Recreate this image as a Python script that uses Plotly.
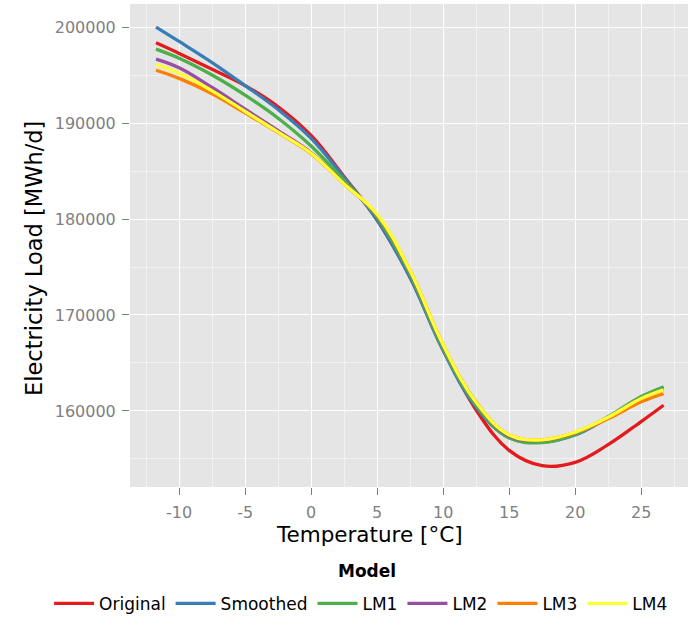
import plotly.graph_objects as go

temperature = [-11.75, -10, -7.5, -5, -2.5, 0, 2.5, 5, 7.5, 10, 12.5, 15, 17.5, 20, 22.5, 25, 26.7]

original = [198350, 197250, 195600, 193900, 191700, 188700, 184400, 179900, 173900, 166400, 160100, 155900, 154300, 154650, 156500, 158900, 160600]
smoothed = [200000, 198500, 196300, 193900, 191400, 188400, 184300, 179900, 173900, 166300, 160400, 157200, 156750, 157500, 159300, 161400, 162500]
lm1 = [197700, 196750, 195000, 192900, 190500, 187600, 184000, 180200, 174200, 166500, 160600, 157200, 156700, 157550, 159400, 161500, 162500]
lm2 = [196650, 195750, 193700, 191450, 189200, 186900, 183700, 180400, 174500, 166800, 160900, 157400, 156950, 157750, 159350, 161300, 162200]
lm3 = [195500, 194650, 193050, 191050, 189000, 186800, 183650, 180400, 174600, 166900, 160900, 157500, 157000, 157750, 159200, 160950, 161800]
lm4 = [196100, 195200, 193350, 191200, 189050, 186850, 183650, 180500, 174600, 166900, 160900, 157500, 157000, 157800, 159350, 161300, 162200]

series_names = ["Original", "Smoothed", "LM1", "LM2", "LM3", "LM4"]
series_values = [original, smoothed, lm1, lm2, lm3, lm4]
colors = ["#E41A1C", "#377EB8", "#4DAF4A", "#984EA3", "#FF7F00", "#FFFF33"]

x_ticks = [-10, -5, 0, 5, 10, 15, 20, 25]
y_ticks = [160000, 170000, 180000, 190000, 200000]

x_title = "Temperature [°C]"
y_title = "Electricity Load [MWh/d]"
legend_title = "Model"

FONT = "DejaVu Sans"

fig = go.Figure()
for name, vals, col in zip(series_names, series_values, colors):
    fig.add_trace(go.Scatter(
        x=temperature, y=vals, name=name, mode="lines",
        line=dict(color=col, width=3.3, shape="spline", smoothing=1.1),
    ))

axis_common = dict(
    showline=False, zeroline=False,
    showgrid=True, gridcolor="white", gridwidth=1.4,
    ticks="outside", ticklen=7, tickwidth=1, tickcolor="#7F7F7F",
    tickfont=dict(family=FONT, size=16, color="#7F7F7F"),
    automargin=False,
)

fig.update_layout(
    width=694, height=617,
    margin=dict(l=130, r=6, t=4, b=130, autoexpand=False),
    paper_bgcolor="white", plot_bgcolor="#E5E5E5",
    font=dict(family=FONT, color="black"),
    xaxis=dict(
        range=[-13.72, 28.55], tickvals=x_ticks, ticktext=[str(v) for v in x_ticks],
        ticklabelstandoff=4,
        minor=dict(tick0=-12.5, dtick=5, showgrid=True, gridcolor="#F2F2F2", gridwidth=0.8, ticks=""),
        **axis_common,
    ),
    yaxis=dict(
        range=[152080, 202400], tickvals=y_ticks, ticktext=[str(v) for v in y_ticks],
        ticklabelstandoff=3,
        minor=dict(tick0=155000, dtick=10000, showgrid=True, gridcolor="#F2F2F2", gridwidth=0.8, ticks=""),
        **axis_common,
    ),
    legend=dict(
        orientation="h", x=-0.145, xanchor="left", y=-0.242, yanchor="middle",
        font=dict(family=FONT, size=17, color="black"),
        bgcolor="rgba(0,0,0,0)", itemwidth=40, traceorder="normal",
    ),
    showlegend=True,
    annotations=[
        dict(text=x_title, xref="paper", yref="paper", x=0.429, y=-0.099,
             xanchor="center", yanchor="middle", showarrow=False,
             font=dict(family=FONT, size=21.5, color="black")),
        dict(text=y_title, xref="paper", yref="paper", x=-0.172, y=0.472,
             xanchor="center", yanchor="middle", textangle=-90, showarrow=False,
             font=dict(family=FONT, size=22.5, color="black")),
        dict(text="<b>" + legend_title + "</b>", xref="paper", yref="paper", x=0.425, y=-0.174,
             xanchor="center", yanchor="middle", showarrow=False,
             font=dict(family=FONT, size=17, color="black")),
    ],
)

fig.write_html("out.html", config={"displayModeBar": False},
               post_script="document.body.style.margin='0px';")
